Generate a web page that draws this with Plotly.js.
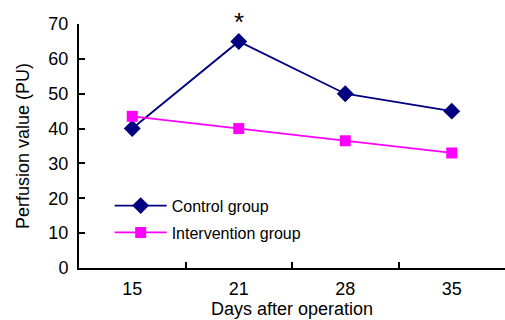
<!DOCTYPE html>
<html><head><meta charset="utf-8">
<script src="https://cdn.plot.ly/plotly-3.0.1.min.js"></script>
<style>body{margin:0;padding:0;background:#fff}#c{width:505px;height:320px}</style>
</head><body><div id="c"></div>
<script>
const days = ['15', '21', '28', '35'];
const controlValues = [40, 65, 50, 45];
const interventionValues = [43.5, 40, 36.5, 33];
const yTicks = [0, 10, 20, 30, 40, 50, 60, 70];
const sigMarks = [{x: '21', y: 65, text: '*'}];

const font = {family: 'Liberation Sans, Arial, sans-serif', color: '#000'};
const traces = [
  {x: days, y: controlValues, name: 'Control group', type: 'scatter', mode: 'lines+markers', legendgroup: 'a',
   line: {color: '#000080', width: 1.8}, marker: {symbol: 'diamond', size: 13, color: '#000080'}},
  {x: days, y: interventionValues, name: 'Intervention group', type: 'scatter', mode: 'lines+markers', legendgroup: 'b',
   line: {color: '#FF00FF', width: 1.8}, marker: {symbol: 'square', size: 11, color: '#FF00FF'}}
];
const layout = {
  width: 505, height: 320,
  margin: {l: 79, r: 0, t: 24, b: 52},
  paper_bgcolor: '#fff', plot_bgcolor: '#fff',
  font: Object.assign({size: 18}, font),
  showlegend: true,
  legend: {x: 0.072, y: 0.325, xanchor: 'left', yanchor: 'top', bgcolor: 'rgba(0,0,0,0)',
    font: Object.assign({size: 16}, font), itemwidth: 52, tracegroupgap: 3},
  xaxis: {type: 'category', range: [-0.5, 3.5], showline: true, linecolor: '#000', linewidth: 2,
    ticks: 'inside', tickson: 'boundaries', ticklen: 6, tickwidth: 2, tickcolor: '#000',
    ticklabelstandoff: 3,
    showgrid: false, zeroline: false, tickfont: Object.assign({size: 18}, font),
    title: {text: 'Days after operation', font: Object.assign({size: 18}, font), standoff: 4}},
  yaxis: {range: [0, 70], tickvals: yTicks, showline: true, linecolor: '#000', linewidth: 2,
    ticks: 'inside', ticklen: 6, tickwidth: 2, tickcolor: '#000',
    ticklabelstandoff: 5,
    showgrid: false, zeroline: false, tickfont: Object.assign({size: 18}, font),
    title: {text: 'Perfusion value (PU)', font: Object.assign({size: 18}, font), standoff: 14}},
  annotations: sigMarks.map(s => ({x: days.indexOf(s.x), y: s.y, xref: 'x', yref: 'y', text: s.text,
    showarrow: false, yshift: 19, font: Object.assign({size: 26}, font)}))
};
Plotly.newPlot('c', traces, layout, {displayModeBar: false, staticPlot: true});
</script></body></html>
